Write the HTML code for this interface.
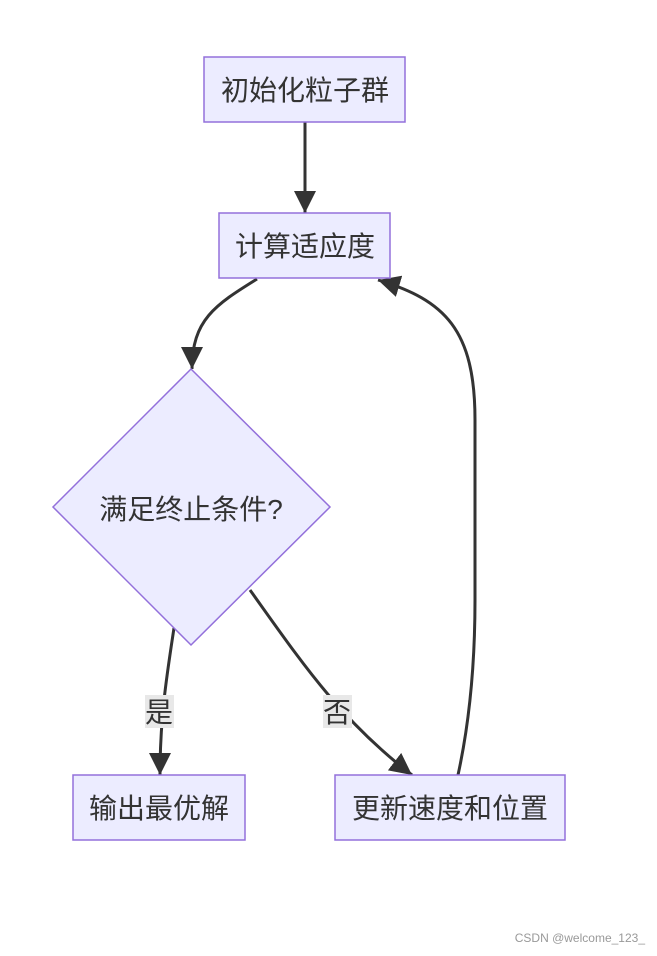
<!DOCTYPE html>
<html><head><meta charset="utf-8"><style>
body{margin:0;background:#fff;width:657px;height:951px;overflow:hidden}
text{font-family:"Liberation Sans","Noto Sans CJK SC",sans-serif;fill:#333}
</style></head><body>
<svg width="657" height="951" viewBox="0 0 657 951">
<defs><marker id="a" viewBox="0 0 10 10" refX="9" refY="5" markerWidth="11" markerHeight="11" markerUnits="userSpaceOnUse" orient="auto"><path d="M0,0L10,5L0,10z" fill="#333"/></marker>
<marker id="b" viewBox="0 0 10 10" refX="10" refY="5" markerWidth="22" markerHeight="22" markerUnits="userSpaceOnUse" orient="auto"><path d="M0,0L10,5L0,10z" fill="#333"/></marker></defs>
<g fill="none" stroke="#333" stroke-width="3">
<path d="M305,122L305,213" marker-end="url(#b)"/>
<path d="M257,279C215,305 192,320 192,369" marker-end="url(#b)"/>
<path d="M174,628C166,680 160,720 160,775" marker-end="url(#b)"/>
<path d="M250,590C300,660 340,720 412,775" marker-end="url(#b)"/>
<path d="M458,775C470,720 475,660 475,600L475,420C475,330 445,300 378,280" marker-end="url(#b)"/>
</g>
<g fill="#ECECFF" stroke="#9370DB" stroke-width="1.5">
<rect x="204" y="57" width="201" height="65"/>
<rect x="219" y="213" width="171" height="65"/>
<polygon points="191,369 330,507 191,645 53,507"/>
<rect x="73" y="775" width="172" height="65"/>
<rect x="335" y="775" width="230" height="65"/>
</g>
<rect x="145" y="695" width="29" height="33" fill="#e8e8e8"/>
<rect x="323" y="695" width="29" height="33" fill="#e8e8e8"/>
<g font-size="28" text-anchor="middle">
<text x="305" y="100">初始化粒子群</text>
<text x="305" y="256">计算适应度</text>
<text x="191" y="519">满足终止条件?</text>
<text x="159" y="818">输出最优解</text>
<text x="450" y="818">更新速度和位置</text>
<text x="159" y="722">是</text>
<text x="337" y="722">否</text>
</g>
<text x="645" y="942" font-size="12" text-anchor="end" style="fill:#999">CSDN @welcome_123_</text>
</svg>
</body></html>
